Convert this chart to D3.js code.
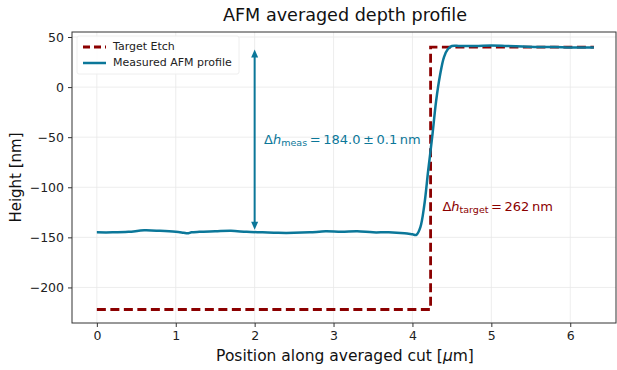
<!DOCTYPE html>
<html>
<head>
<meta charset="utf-8">
<script src="https://cdn.jsdelivr.net/npm/d3@7"></script>
<style>
  html, body { margin: 0; padding: 0; background: #fff; }
  svg { display: block; font-family: "DejaVu Sans", sans-serif; }
</style>
</head>
<body>
<svg id="chart" width="617" height="370"></svg>
<script>
// Target etch profile (ideal step)
const targetX = [0, 4.23, 4.23, 6.3];
const targetY = [-222, -222, 40, 40];

// Measured AFM profile, averaged along the cut
const measX = [0, 0.2, 0.4, 0.6, 0.8, 1.0, 1.1, 1.15, 1.2, 1.3, 1.5, 1.7, 1.9, 2.1, 2.3, 2.5, 2.7, 2.9, 3.1, 3.3, 3.5, 3.7, 3.9, 4.0, 4.05,
  4.1, 4.15, 4.2, 4.25, 4.3, 4.35, 4.4, 4.45, 4.5, 4.6, 4.8, 5.0, 5.2, 5.4, 5.6, 5.8, 6.0, 6.2, 6.3];
const measY = [-145, -145, -144.5, -143, -143.5, -144.5, -145.5, -146, -145, -144.5, -144, -143.5, -144.5, -145, -145.5, -145.5, -145, -144, -144.5, -144, -145, -145, -146, -147, -147.5,
  -140, -118, -83, -50, -14, 12, 30, 38, 41, 41, 41, 41.5, 41, 40.5, 40, 40, 39.5, 39.5, 39.5];

const xTicks = [0, 1, 2, 3, 4, 5, 6];
const yTicks = [50, 0, -50, -100, -150, -200];

// Step heights
const measLow = -144.5, measHigh = 39.5;
const measStep = "184.0\u2009\u00b1\u20090.1\u2009nm";
const targetStep = "262\u2009nm";

const colTarget = "#8b0000";
const colMeas = "#0b7799";

const svg = d3.select("#chart");
const L = 72, R = 616, T = 32, B = 323;

const x = d3.scaleLinear().domain([-0.315, 6.58]).range([L, R]);
const y = d3.scaleLinear().domain([-235.5, 55]).range([B, T]);

// grid
const grid = svg.append("g");
grid.selectAll(".gx").data(xTicks).join("line")
  .attr("x1", d => x(d)).attr("x2", d => x(d)).attr("y1", T).attr("y2", B)
  .attr("stroke", "#e8e8e8").attr("stroke-width", 0.8);
grid.selectAll(".gy").data(yTicks).join("line")
  .attr("x1", L).attr("x2", R).attr("y1", d => y(d)).attr("y2", d => y(d))
  .attr("stroke", "#e8e8e8").attr("stroke-width", 0.8);

// axes
const xAxis = svg.append("g").attr("transform", `translate(0,${B})`)
  .call(d3.axisBottom(x).tickValues(xTicks).tickFormat(d3.format("d")).tickSize(4).tickPadding(4));
const yAxis = svg.append("g").attr("transform", `translate(${L},0)`)
  .call(d3.axisLeft(y).tickValues(yTicks).tickFormat(d => d < 0 ? "\u2212" + Math.abs(d) : d).tickSize(4).tickPadding(4));
[xAxis, yAxis].forEach(a => {
  a.select(".domain").remove();
  a.selectAll("text").attr("font-size", 12.5).attr("fill", "#222").attr("font-family", "DejaVu Sans");
  a.selectAll("line").attr("stroke", "#333");
});

// frame
svg.append("rect").attr("x", L).attr("y", T).attr("width", R - L).attr("height", B - T)
  .attr("fill", "none").attr("stroke", "#333").attr("stroke-width", 1);

// lines
const line = d3.line().x(d => x(d[0])).y(d => y(d[1]));
svg.append("path").datum(targetX.map((v, i) => [v, targetY[i]]))
  .attr("d", line).attr("fill", "none").attr("stroke", colTarget)
  .attr("stroke-width", 2.8).attr("stroke-dasharray", "9,4.5");
svg.append("path").datum(measX.map((v, i) => [v, measY[i]]))
  .attr("d", line.curve(d3.curveCatmullRom)).attr("fill", "none").attr("stroke", colMeas)
  .attr("stroke-width", 2.5).attr("stroke-linejoin", "round");

// double arrow for measured step
const ax = x(2), ay1 = y(measLow) - 2, ay2 = y(measHigh) + 2;
svg.append("line").attr("x1", ax).attr("x2", ax).attr("y1", ay1 - 6).attr("y2", ay2 + 6)
  .attr("stroke", colMeas).attr("stroke-width", 2);
svg.append("path").attr("d", `M${ax},${ay2} l-3.5,8 l7,0 z`).attr("fill", colMeas);
svg.append("path").attr("d", `M${ax},${ay1} l-3.5,-8 l7,0 z`).attr("fill", colMeas);

// annotations
function deltaLabel(px, py, sub, rest, color) {
  const t = svg.append("text").attr("x", px).attr("y", py).attr("fill", color)
    .attr("font-size", 13).attr("dominant-baseline", "middle");
  t.append("tspan").text("\u0394");
  t.append("tspan").attr("font-style", "italic").text("h");
  t.append("tspan").attr("font-size", 9.5).attr("dy", 3).text(sub);
  t.append("tspan").attr("dy", -3).text("\u2009=\u2009" + rest);
}
deltaLabel(x(2.12), y((measLow + measHigh) / 2), "meas", measStep, colMeas);
deltaLabel(x(4.38), y(-120), "target", targetStep, colTarget);

// legend
const lg = svg.append("g");
lg.append("rect").attr("x", 77).attr("y", 36).attr("width", 162).attr("height", 38)
  .attr("fill", "#fff").attr("fill-opacity", 0.85).attr("stroke", "#eee").attr("rx", 2);
const items = [
  { label: "Target Etch", color: colTarget, dash: "7,4", w: 2.8 },
  { label: "Measured AFM profile", color: colMeas, dash: null, w: 2.5 }
];
items.forEach((it, i) => {
  const yy = 47 + i * 16;
  lg.append("line").attr("x1", 83).attr("x2", 106).attr("y1", yy).attr("y2", yy)
    .attr("stroke", it.color).attr("stroke-width", it.w).attr("stroke-dasharray", it.dash);
  lg.append("text").attr("x", 113).attr("y", yy).attr("dominant-baseline", "middle")
    .attr("font-size", 11).attr("fill", "#222").text(it.label);
});

// titles
svg.append("text").attr("x", 345).attr("y", 16).attr("text-anchor", "middle")
  .attr("dominant-baseline", "middle").attr("font-size", 17.6).attr("fill", "#111")
  .text("AFM averaged depth profile");
const xl = svg.append("text").attr("x", 345).attr("y", 356).attr("text-anchor", "middle")
  .attr("dominant-baseline", "middle").attr("font-size", 15.5).attr("fill", "#111");
xl.append("tspan").text("Position along averaged cut [");
xl.append("tspan").attr("font-style", "italic").text("\u03bc");
xl.append("tspan").text("m]");
svg.append("text").attr("transform", `translate(16,${(T + B) / 2}) rotate(-90)`)
  .attr("text-anchor", "middle").attr("dominant-baseline", "middle")
  .attr("font-size", 15).attr("fill", "#111").text("Height [nm]");
</script>
</body>
</html>
